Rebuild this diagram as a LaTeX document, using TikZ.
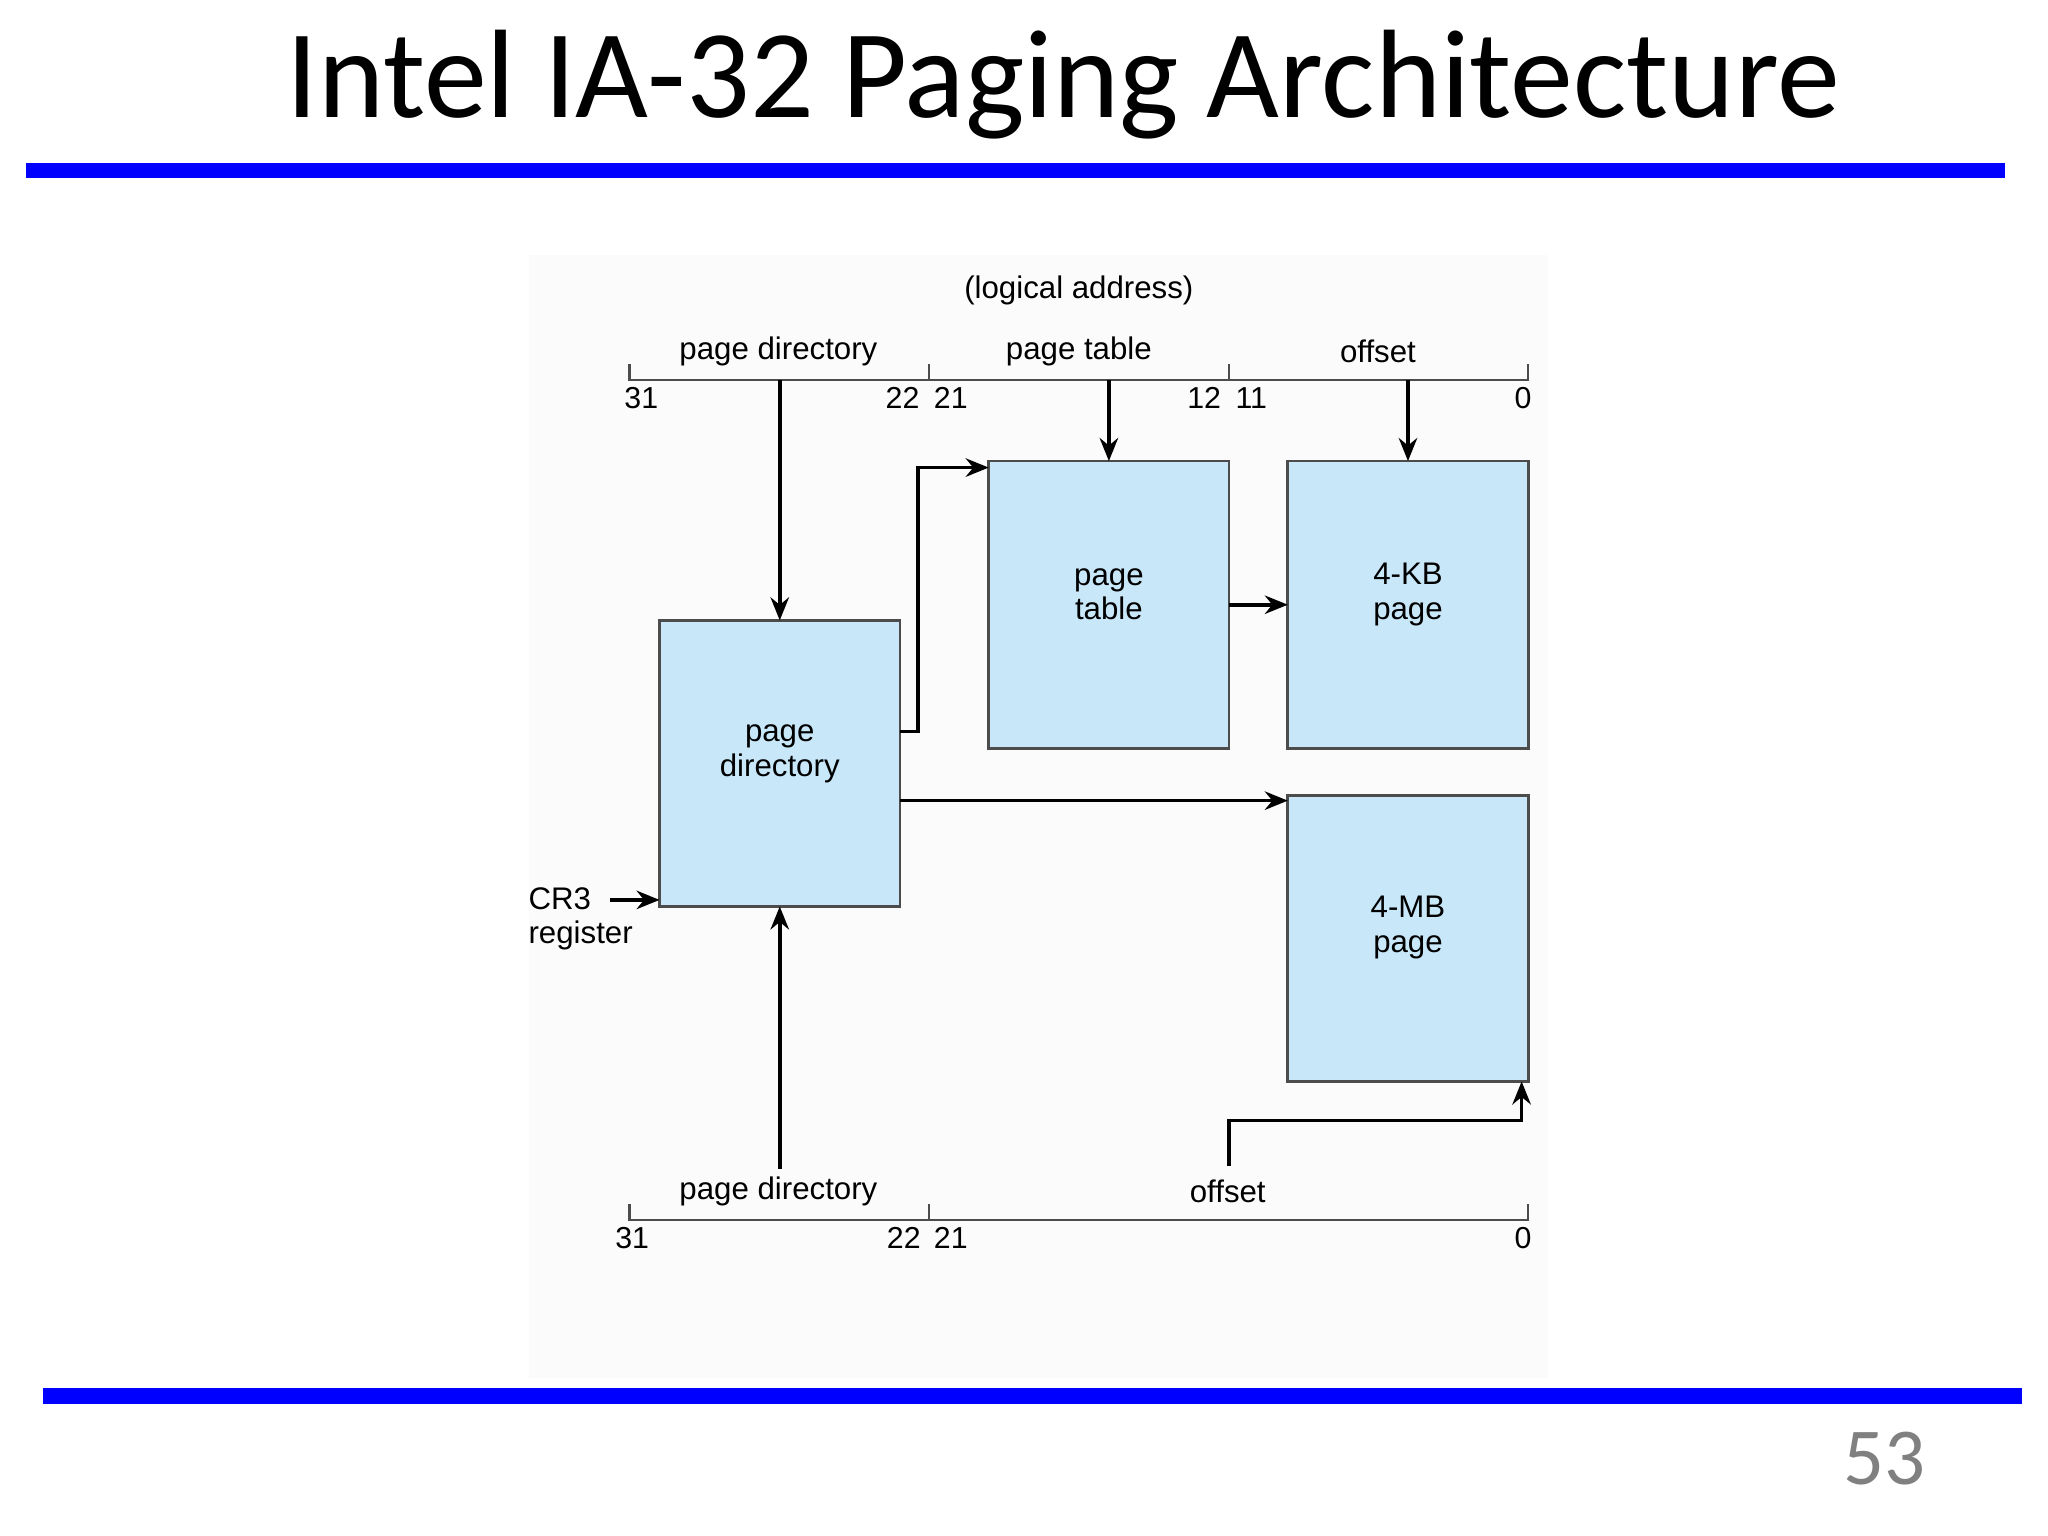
\documentclass[tikz,border=0pt]{standalone}
\usepackage{fontspec}
\setmainfont{Liberation Sans}
\newfontfamily\titlefont{Carlito}
\usetikzlibrary{arrows.meta}
\definecolor{boxblue}{RGB}{200,231,249}
\definecolor{barblue}{RGB}{0,0,255}
\begin{document}
\begin{tikzpicture}[x=0.01cm,y=-0.01cm,
  box/.style={align=center,font=\fontsize{6.8}{7.6}\selectfont,inner sep=0pt},
  rect/.style={draw=black!70,fill=boxblue,line width=0.6pt},
  lbl/.style={font=\fontsize{6.8}{8}\selectfont,inner sep=0pt},
  num/.style={font=\fontsize{6.6}{8}\selectfont,inner sep=0pt},
  arr/.style={-{Stealth[length=5pt,width=4pt]},line width=0.8pt},
  ln/.style={line width=0.5pt,black!70},
  bar/.style={fill=barblue,draw=none}]
\useasboundingbox (0,0) rectangle (1568,1176);
\fill[black!1.5] (405,195) rectangle (1185,1055);
% title and bars
\node[font=\titlefont\fontsize{27.4}{30}\selectfont,inner sep=0pt] (title) at (814,65) {Intel IA-32 Paging Architecture};
\fill[bar] (20,125) rectangle (1535,136);
\fill[bar] (33,1063) rectangle (1548,1075);
\node[font=\titlefont\fontsize{17.6}{20}\selectfont,text=black!50,inner sep=0pt] (pnum) at (1443,1117) {53};
% boxes
\draw[rect] (505,475) rectangle (689,694);
\node[box] (pd) at (597,577) {page\\directory};
\draw[rect] (757,353) rectangle (941,573);
\node[box] (pt) at (849,455) {page\\table};
\draw[rect] (986,353) rectangle (1170,573);
\node[box] (kb) at (1078,455) {4-KB\\page};
\draw[rect] (986,609) rectangle (1170,828);
\node[box] (mb) at (1078,710) {4-MB\\page};
% top address
\node[lbl] (la) at (826,222) {(logical address)};
\draw[ln] (482,279) -- (482,291) -- (1170,291) -- (1170,279);
\draw[ln] (711,279) -- (711,291);
\draw[ln] (941,279) -- (941,291);
\node[lbl] (tpd) at (596,269) {page directory};
\node[lbl] (tpt) at (826,269) {page table};
\node[lbl] (tof) at (1055,269) {offset};
\node[num] at (491,305) {31};
\node[num] at (691,305) {22};
\node[num] at (728,305) {21};
\node[num] at (922,305) {12};
\node[num] at (958,305) {11};
\node[num] at (1166,305) {0};
% bottom address
\draw[ln] (482,922) -- (482,934) -- (1170,934) -- (1170,922);
\draw[ln] (711,922) -- (711,934);
\node[lbl] (bpd) at (596,912) {page directory};
\node[lbl] (bof) at (940,912) {offset};
\node[num] at (484,948) {31};
\node[num] at (692,948) {22};
\node[num] at (728,948) {21};
\node[num] at (1166,948) {0};
% CR3
\node[lbl,anchor=west] (cr3) at (404,688) {CR3};
\node[lbl,anchor=west] (reg) at (404,716) {register};
% arrows
\draw[arr] (597,291) -- (597,475);
\draw[arr] (849,291) -- (849,353);
\draw[arr] (1078,291) -- (1078,353);
\draw[arr] (689,560) -- (703,560) -- (703,358) -- (757,358);
\draw[arr] (941,463) -- (986,463);
\draw[arr] (689,613) -- (986,613);
\draw[arr] (467,689) -- (505,689);
\draw[arr] (597,895) -- (597,694);
\draw[arr] (941,893) -- (941,858) -- (1165,858) -- (1165,828);
\end{tikzpicture}
\end{document}
